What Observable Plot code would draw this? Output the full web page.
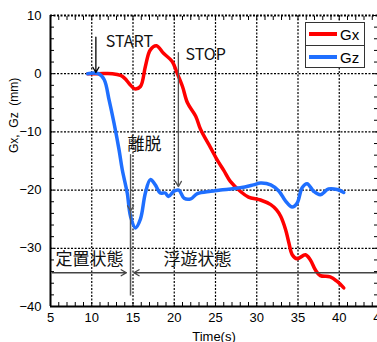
<!DOCTYPE html>
<html><head><meta charset="utf-8">
<script src="https://cdn.jsdelivr.net/npm/d3@7"></script>
<script src="https://cdn.jsdelivr.net/npm/@observablehq/plot@0.6"></script>
<style>
body{margin:0;background:#fff;}
#wrap{position:relative;width:377px;height:342px;overflow:hidden;background:#fff;}
.legend{position:absolute;left:305px;top:22px;width:60px;height:46px;border:1.5px solid #333;box-sizing:border-box;font:15px "Liberation Sans",Arial,sans-serif;background:#fff;}
.row{height:22px;display:flex;align-items:center;padding-left:3px;}
.row + .row{border-top:1.5px solid #333;}
.sw{width:28px;height:4px;margin-right:3px;}
</style>
</head><body>
<div id="wrap"></div>
<script>
// Data
const gxTime  = [9.5, 10.8, 12.5, 13.5, 14.0, 14.6, 15.2, 15.9, 16.5, 17.1, 17.85, 18.7, 19.75, 20.35, 21.0, 21.6, 22.6, 23.2, 24.4, 25.2, 26.0, 26.8, 28.0, 29.0, 30.45, 31.7, 32.4, 32.9, 33.5, 33.9, 34.3, 34.9, 35.9, 36.5, 37.1, 37.7, 38.9, 39.75, 40.55];
const gxValue = [0, 0, 0, -0.3, -0.8, -1.8, -2.6, -2.2, 1.25, 4.1, 4.8, 3.5, 2.1, 0.1, -2.2, -5, -7.3, -9.6, -12.7, -14.8, -16.6, -18.5, -20.2, -21.2, -21.7, -22.5, -23.4, -24.5, -26.8, -29.1, -31.1, -31.8, -31.1, -32, -33.7, -34.7, -34.9, -35.7, -36.8];
const gzTime  = [9.5, 10.8, 11.5, 12.1, 12.7, 13.3, 13.7, 14.3, 14.7, 15.3, 15.9, 16.5, 17.1, 17.7, 18.3, 18.9, 19.3, 19.95, 20.55, 21.2, 22.0, 22.8, 24.4, 25.6, 28.0, 29.6, 30.45, 31.7, 32.7, 33.5, 34.3, 34.9, 35.5, 36.1, 36.9, 37.7, 38.7, 39.75, 40.55];
const gzValue = [0, 0, -1.0, -4.5, -8.5, -13, -16.5, -20.5, -24.5, -26.5, -25, -20.5, -18.2, -19.1, -20.5, -20.5, -21.1, -20.2, -20.0, -21.4, -21.5, -20.6, -20.2, -20.0, -19.6, -19.1, -18.8, -19.1, -20.2, -21.9, -22.9, -22.2, -19.6, -18.9, -20.2, -20.8, -19.8, -19.9, -20.4];
const seriesNames = ["Gx", "Gz"];
const seriesColors = ["#ff0000", "#1f6fff"];
const xTickLabels = [5, 10, 15, 20, 25, 30, 35, 40, 45];
const yTickLabels = [-40, -30, -20, -10, 0, 10];
const xGrid = [10, 15, 20, 25, 30, 35, 40];
const yGrid = [-30, -20, -10, 0];
const xMinor = d3.range(5, 46, 1);
const yMinor = d3.range(-40, 11, 2);
const yLabel = "Gx,  Gz  (mm)";
// annotations
const noteText = ["START", "STOP", "離脱", "定置状態", "浮遊状態"];
const noteX = [11.7, 21.36, 14.33, 5.6, 18.7];
const noteY = [5.4, 3.3, -12.2, -32, -32];
const noteSize = [16, 16, 17, 17, 17];
const arrowX1 = [10.5, 20.5, 14.7, 5.2, 45];
const arrowY1 = [6.3, 3.6, -13.9, -34.2, -34.2];
const arrowX2 = [10.5, 20.5, 14.7, 14.2, 15.1];
const arrowY2 = [0.2, -19.4, -23.6, -34.2, -34.2];
const arrowColor = ["#000", "#555", "#555", "#444", "#444"];

const gx = gxTime.map((t, i) => ({t, v: gxValue[i]}));
const gz = gzTime.map((t, i) => ({t, v: gzValue[i]}));
const notes = noteText.map((s, i) => ({s, x: noteX[i], y: noteY[i], f: noteSize[i]}));
const arrows = arrowX1.map((x1, i) => ({x1, y1: arrowY1[i], x2: arrowX2[i], y2: arrowY2[i], c: arrowColor[i]}));

const grid = {stroke: "black", strokeOpacity: 1, strokeWidth: 1.2, strokeDasharray: "2,1.5"};
const chart = Plot.plot({
  width: 377, height: 342,
  marginLeft: 50, marginTop: 15, marginBottom: 36, marginRight: 0,
  x: {domain: [5, 45], range: [50, 380]},
  y: {domain: [-40, 10], range: [306, 15]},
  style: {fontFamily: "'Liberation Sans', Arial, sans-serif", fontSize: "12px", color: "black", background: "white"},
  marks: [
    Plot.gridX(xGrid, grid),
    Plot.gridY(yGrid, grid),
    Plot.ruleY([10], {stroke: "black", strokeWidth: 2, strokeDasharray: "2,1.5"}),
    Plot.ruleX([5], {stroke: "black", strokeWidth: 2}),
    Plot.ruleY([-40], {stroke: "black", strokeWidth: 2}),
    Plot.axisX({anchor: "bottom", ticks: xTickLabels, tickSize: 0, tickPadding: 6, fontSize: 13, label: "Time(s)", labelArrow: "none", labelAnchor: "center", labelOffset: 34}),
    Plot.axisX({anchor: "bottom", ticks: xMinor, tickSize: -4, tickFormat: () => "", label: null}),
    Plot.axisX({anchor: "top", ticks: xMinor, tickSize: -4, tickFormat: () => "", label: null}),
    Plot.axisY({anchor: "left", ticks: yTickLabels, tickSize: 0, tickPadding: 9, fontSize: 13, label: null}),
    Plot.text([yLabel], {frameAnchor: "left", text: d => d, rotate: -90, dx: -36, dy: -8, fontSize: 12}),
    Plot.axisY({anchor: "left", ticks: yMinor, tickSize: -4, tickFormat: () => "", label: null}),
    Plot.axisY({anchor: "right", ticks: yMinor, tickSize: -4, tickFormat: () => "", label: null}),
    Plot.line(gx, {x: "t", y: "v", stroke: seriesColors[0], strokeWidth: 3.5, curve: "catmull-rom"}),
    Plot.line(gz, {x: "t", y: "v", stroke: seriesColors[1], strokeWidth: 3.5, curve: "catmull-rom"}),
    Plot.ruleX([arrowX1[2]], {y1: arrowY2[2], y2: -38.2, stroke: "#555", strokeWidth: 1.5}),
    Plot.arrow(arrows, {x1: "x1", y1: "y1", x2: "x2", y2: "y2", stroke: "c", headLength: 7, strokeWidth: 1.3}),
    Plot.text(notes, {x: "x", y: "y", text: "s", textAnchor: "start", fontSize: "f", fill: "#111", fontFamily: "'Noto Sans CJK JP', 'Liberation Sans', sans-serif"})
  ]
});
const wrap = document.getElementById("wrap");
wrap.appendChild(chart);
const legend = document.createElement("div");
legend.className = "legend";
legend.innerHTML = seriesNames.map((n, i) => `<div class="row"><div class="sw" style="background:${seriesColors[i]}"></div>${n}</div>`).join("");
wrap.appendChild(legend);
</script>
</body></html>
